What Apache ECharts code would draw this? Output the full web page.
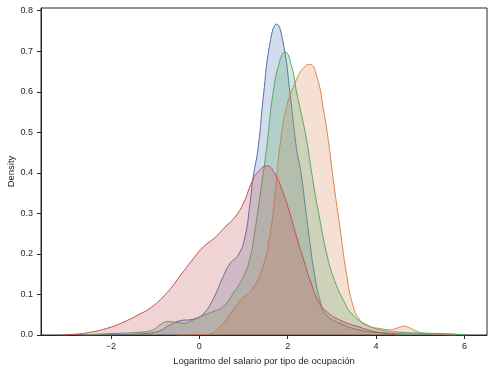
<!DOCTYPE html>
<html>
<head>
<meta charset="utf-8">
<script src="https://cdn.jsdelivr.net/npm/echarts@6/dist/echarts.min.js"></script>
<style>
html,body{margin:0;padding:0;background:#fff;}
#c{width:494px;height:372px;}
</style>
</head>
<body>
<div id="c"></div>
<script>
// Data
const xTicks = [-2, 0, 2, 4, 6];
const yTicks = [0, 0.1, 0.2, 0.3, 0.4, 0.5, 0.6, 0.7, 0.8];

const blueX = [-2.8,-1.8,-1.34,-0.96,-0.66,-0.44,-0.14,0.09,0.32,0.54,0.7,0.88,1.03,1.15,1.22,1.33,1.45,1.6,1.75,1.9,2.05,2.2,2.3,2.43,2.5,2.58,2.73,2.88,3.18,3.64,4.2,5.0,6.05];
const blueY = [0,0.001,0.003,0.008,0.025,0.035,0.039,0.052,0.09,0.144,0.177,0.197,0.24,0.326,0.39,0.46,0.588,0.72,0.767,0.72,0.6,0.46,0.40,0.29,0.23,0.169,0.086,0.049,0.029,0.012,0.005,0.002,0];

const orangeX = [-0.5,0.1,0.3,0.47,0.69,0.95,1.2,1.45,1.6,1.7,1.83,1.98,2.2,2.35,2.5,2.66,2.81,2.92,3.03,3.18,3.33,3.48,3.64,3.82,4.09,4.31,4.5,4.62,4.75,4.9,5.05,5.4,5.8];
const orangeY = [0,0.001,0.005,0.02,0.05,0.088,0.113,0.172,0.247,0.33,0.47,0.564,0.63,0.658,0.668,0.638,0.556,0.48,0.385,0.267,0.152,0.072,0.036,0.022,0.016,0.013,0.018,0.022,0.018,0.01,0.005,0.002,0];

const greenX = [-2.6,-2.1,-1.34,-1.04,-0.89,-0.7,-0.5,-0.36,-0.14,0.05,0.32,0.54,0.77,1.0,1.15,1.25,1.37,1.52,1.67,1.83,1.94,2.09,2.2,2.3,2.43,2.58,2.73,2.88,3.03,3.26,3.48,3.79,4.17,4.54,4.92,5.67,6.0];
const greenY = [0,0.003,0.007,0.013,0.025,0.033,0.031,0.029,0.037,0.047,0.058,0.07,0.103,0.144,0.19,0.25,0.34,0.457,0.597,0.679,0.698,0.663,0.6,0.55,0.48,0.375,0.284,0.202,0.144,0.086,0.049,0.025,0.011,0.007,0.005,0.003,0];

const redX = [-3.1,-2.8,-2.5,-2.1,-1.75,-1.34,-1.1,-0.74,-0.44,-0.1,0.1,0.35,0.6,0.8,1.0,1.2,1.35,1.53,1.7,1.9,2.05,2.2,2.35,2.5,2.7,2.88,3.18,3.64,4.0,4.5];
const redY = [0,0.002,0.006,0.016,0.03,0.052,0.067,0.103,0.145,0.193,0.218,0.24,0.268,0.29,0.325,0.38,0.405,0.417,0.4,0.35,0.30,0.243,0.19,0.138,0.082,0.058,0.037,0.019,0.008,0];

const zip = (xs, ys) => xs.map((x, i) => [x, ys[i]]);
const FONT = '"Liberation Sans", Arial, sans-serif';
const INK = '#262626';

function kde(data, color, z) {
  return {
    type: 'line',
    data: data,
    smooth: 0.5,
    showSymbol: false,
    sampling: 'none',
    z: z,
    lineStyle: { color: color, width: 1 },
    itemStyle: { color: color },
    areaStyle: { color: color, opacity: 0.25 },
    silent: true
  };
}

const chart = echarts.init(document.getElementById('c'), null, { renderer: 'canvas' });
chart.setOption({
  animation: false,
  backgroundColor: '#fff',
  grid: { left: 41, top: 8, right: 7, bottom: 37, containLabel: false, outerBoundsMode: 'none',
    show: true, borderColor: INK, borderWidth: 1, backgroundColor: 'transparent' },
  xAxis: {
    type: 'value', min: -3.58, max: 6.51,
    name: 'Logaritmo del salario por tipo de ocupación',
    nameLocation: 'middle', nameGap: 21, nameMoveOverlap: false,
    nameTextStyle: { fontFamily: FONT, fontSize: 9.5, color: INK },
    axisLine: { show: true, onZero: false, lineStyle: { color: INK, width: 1 } },
    axisTick: { show: true, length: 4, lineStyle: { color: INK }, customValues: xTicks },
    axisLabel: { fontFamily: FONT, fontSize: 9, color: INK, margin: 7, customValues: xTicks,
      formatter: v => (v < 0 ? '\u2212' + Math.abs(v) : String(v)) },
    splitLine: { show: false }
  },
  yAxis: {
    type: 'value', min: 0, max: 0.8067,
    name: 'Density',
    nameLocation: 'middle', nameGap: 25, nameRotate: 90, nameMoveOverlap: false,
    nameTextStyle: { fontFamily: FONT, fontSize: 9.5, color: INK },
    axisLine: { show: true, onZero: false, lineStyle: { color: INK, width: 1 } },
    axisTick: { show: true, length: 4, lineStyle: { color: INK }, customValues: yTicks },
    axisLabel: { fontFamily: FONT, fontSize: 9, color: INK, margin: 8, customValues: yTicks,
      formatter: v => v.toFixed(1) },
    splitLine: { show: false }
  },
  series: [
    kde(zip(blueX, blueY), '#4c72b0', 2),
    kde(zip(orangeX, orangeY), '#dd8452', 3),
    kde(zip(greenX, greenY), '#55a868', 4),
    kde(zip(redX, redY), '#c44e52', 5)
  ]
});
</script>
</body>
</html>
